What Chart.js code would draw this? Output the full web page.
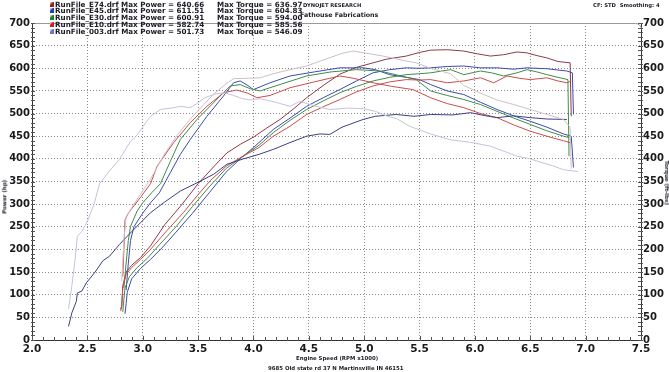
<!DOCTYPE html>
<html lang="en">
<head>
<meta charset="UTF-8" />
<title>Dyno Power and Torque</title>
<script src="https://cdn.jsdelivr.net/npm/chart.js"></script>
<style>
  body { margin: 0; background: #fff; font-family: "DejaVu Sans", sans-serif; }
  .wrap { position: relative; width: 669px; height: 372px; overflow: hidden; }
  canvas { position: absolute; left: 0; top: 0; }
  .txt { position: absolute; font-weight: bold; color: #1c1c28; white-space: nowrap; line-height: 1; }
  .box { position: absolute; width: 4px; height: 5px; }
</style>
</head>
<body>
<div class="wrap" id="wrap">
  <canvas id="dyno" width="669" height="372"></canvas>
</div>
<script>
// legend text
const runNames = ['RunFile_E74.drf', 'RunFile_E45.drf', 'RunFile_E30.drf', 'RunFile_E10.drf', 'RunFile_003.drf'];
const maxPower = ['640.66', '611.51', '600.91', '582.74', '501.73'];
const maxTorque = ['636.97', '604.83', '594.00', '585.56', '546.09'];
const boxColors = ['#9b1f22', '#1f3cc0', '#1f7f24', '#d01f1f', '#6b74c8'];

// axis ticks
const rpmTicks = [2.0, 2.5, 3.0, 3.5, 4.0, 4.5, 5.0, 5.5, 6.0, 6.5, 7.0, 7.5];
const valueTicks = [0, 50, 100, 150, 200, 250, 300, 350, 400, 450, 500, 550, 600, 650, 700];

// E74
const e74PowerRpm = [2.80,2.81,2.82,2.85,2.90,2.98,3.07,3.20,3.35,3.50,3.65,3.76,3.88,4.00,4.12,4.24,4.36,4.48,4.63,4.78,4.93,5.08,5.20,5.38,5.50,5.60,5.75,5.90,6.02,6.14,6.26,6.38,6.47,6.56,6.65,6.75,6.86,6.87];
const e74Power = [68,75,120,150,165,182,208,255,298,345,385,413,432,448,468,487,510,535,562,587,602,612,620,627,635,640,641,638,632,627,630,636,634,628,623,615,612,494];
const e74TorqueRpm = [2.81,2.83,2.85,2.90,2.98,3.07,3.19,3.31,3.43,3.55,3.65,3.75,3.82,3.95,4.06,4.18,4.33,4.48,4.65,4.80,4.90,5.00,5.17,5.30,5.47,5.60,5.78,5.90,6.05,6.20,6.35,6.50,6.65,6.80,6.86,6.87];
const e74Torque = [130,220,272,292,322,355,408,452,488,520,545,565,577,578,579,588,597,605,620,633,638,634,627,620,612,600,588,562,545,530,520,509,498,487,470,378];

// E45
const e45PowerRpm = [2.84,2.85,2.86,2.90,2.98,3.07,3.18,3.30,3.45,3.60,3.75,3.88,4.00,4.18,4.33,4.48,4.63,4.78,4.93,5.08,5.23,5.38,5.50,5.60,5.75,5.90,6.05,6.20,6.35,6.47,6.65,6.83,6.88,6.89];
const e45Power = [58,80,105,135,158,178,205,238,280,325,370,400,425,465,490,516,535,553,572,590,597,601,600,601,604,605,601,601,598,601,599,594,590,498];
const e45TorqueRpm = [2.85,2.87,2.89,2.92,3.00,3.07,3.15,3.25,3.34,3.43,3.58,3.73,3.82,3.88,3.95,4.00,4.15,4.33,4.55,4.78,4.99,5.10,5.23,5.38,5.50,5.60,5.75,5.90,6.05,6.20,6.35,6.50,6.65,6.80,6.87,6.89];
const e45Torque = [110,170,220,250,280,303,325,370,410,443,494,539,568,572,562,553,568,583,592,601,601,597,586,580,575,564,550,542,525,509,495,483,470,455,450,381];

// E30
const e30PowerRpm = [2.82,2.83,2.84,2.88,2.95,3.04,3.15,3.30,3.45,3.60,3.75,3.90,4.05,4.18,4.33,4.48,4.63,4.78,4.93,5.08,5.23,5.38,5.50,5.60,5.78,5.90,6.05,6.15,6.26,6.38,6.47,6.56,6.65,6.75,6.84,6.85];
const e30Power = [62,90,115,140,160,180,210,250,295,338,378,405,430,458,485,509,528,546,560,572,580,586,588,590,597,586,594,590,583,590,597,592,586,580,575,406];
const e30TorqueRpm = [2.83,2.85,2.87,2.89,2.95,3.00,3.08,3.16,3.25,3.34,3.49,3.64,3.79,3.88,3.97,4.06,4.25,4.48,4.70,4.93,5.14,5.30,5.47,5.60,5.75,5.90,6.05,6.20,6.35,6.50,6.65,6.80,6.85];
const e30Torque = [115,170,220,251,285,303,325,345,395,443,487,524,561,564,555,550,565,583,592,597,594,585,575,550,540,531,520,505,490,476,462,450,447];

// E10
const e10PowerRpm = [2.80,2.81,2.82,2.85,2.90,2.98,3.07,3.22,3.37,3.49,3.61,3.76,3.90,4.05,4.18,4.33,4.48,4.63,4.78,4.93,5.08,5.23,5.38,5.50,5.60,5.75,5.90,6.05,6.17,6.29,6.40,6.50,6.65,6.75,6.83,6.87];
const e10Power = [64,72,115,145,160,178,200,242,282,318,352,385,405,425,450,472,498,515,531,548,561,570,575,574,575,568,572,579,568,583,578,575,579,572,568,572];
const e10TorqueRpm = [2.82,2.83,2.84,2.87,2.90,2.98,3.07,3.13,3.28,3.43,3.58,3.73,3.85,3.95,4.03,4.15,4.33,4.55,4.78,4.90,5.08,5.25,5.44,5.60,5.75,5.90,6.05,6.20,6.35,6.50,6.65,6.80,6.87];
const e10Torque = [140,200,265,280,290,315,345,384,436,480,516,546,552,545,535,540,557,570,583,578,568,560,553,535,522,513,500,491,475,461,450,440,435];

// 003
const r003PowerRpm = [2.33,2.36,2.40,2.41,2.45,2.49,2.57,2.64,2.70,2.79,2.86,2.98,3.07,3.20,3.34,3.49,3.64,3.76,3.91,4.05,4.18,4.33,4.48,4.60,4.69,4.80,4.99,5.10,5.29,5.45,5.60,5.80,5.96,6.10,6.20,6.35,6.50,6.65,6.83];
const r003Power = [30,60,85,104,108,126,150,175,185,211,229,259,281,305,329,347,366,388,400,410,421,436,450,455,454,470,487,494,498,494,498,497,502,495,491,495,491,488,487];
const r003TorqueRpm = [2.33,2.36,2.39,2.41,2.45,2.50,2.56,2.61,2.70,2.79,2.89,2.93,3.00,3.07,3.16,3.28,3.34,3.43,3.49,3.56,3.65,3.74,3.82,3.90,3.97,4.06,4.20,4.33,4.42,4.55,4.69,4.85,4.99,5.10,5.20,5.30,5.41,5.60,5.78,5.95,6.14,6.25,6.38,6.50,6.60,6.70,6.80,6.93];
const r003Torque = [69,120,180,229,240,262,300,345,373,399,439,447,470,494,509,513,516,513,522,535,543,546,540,533,530,533,525,516,527,517,509,512,511,505,495,488,472,455,442,437,428,418,406,400,392,385,376,372];

const yFont = { family: 'DejaVu Sans', size: 10, weight: 'bold' };
const xFont = { family: 'DejaVu Sans', size: 10.5, weight: 'bold' };

function pts(xs, ys) {
  return xs.map((x, i) => ({ x: x, y: ys[i] }));
}

function line(label, xs, ys, color, axis) {
  return {
    label: label,
    data: pts(xs, ys),
    borderColor: color,
    borderWidth: 1,
    pointRadius: 0,
    fill: false,
    tension: 0,
    yAxisID: axis
  };
}

// top frame with rounded corner and the minor tick marks on the axes
const frameTicks = {
  id: 'frameTicks',
  afterDraw(chart) {
    const { ctx, chartArea: a, scales } = chart;
    ctx.save();
    ctx.lineWidth = 1;
    ctx.strokeStyle = '#9a9a9a';
    ctx.beginPath();
    ctx.moveTo(a.left, a.top + 0.5);
    ctx.lineTo(a.right - 6, a.top + 0.5);
    ctx.arcTo(a.right + 0.5, a.top + 0.5, a.right + 0.5, a.top + 6, 6);
    ctx.stroke();
    ctx.strokeStyle = '#555';
    ctx.beginPath();
    for (let v = 0; v <= 700; v += 10) {
      const y = Math.round(scales.yPower.getPixelForValue(v)) + 0.5;
      ctx.moveTo(a.left - 1, y); ctx.lineTo(a.left + 3, y);
      ctx.moveTo(a.right - 3, y); ctx.lineTo(a.right + 2, y);
    }
    for (let i = 0; i <= 55; i++) {
      const x = Math.round(scales.x.getPixelForValue(2 + i / 10)) + 0.5;
      const len = i % 5 === 0 ? 4 : 3;
      ctx.moveTo(x, a.bottom - len); ctx.lineTo(x, a.bottom + 1);
    }
    ctx.stroke();
    ctx.restore();
  }
};

new Chart(document.getElementById('dyno'), {
  type: 'line',
  data: {
    datasets: [
      line('003 Torque', r003TorqueRpm, r003Torque, '#c3c3de', 'yTorque'),
      line('E74 Torque', e74TorqueRpm, e74Torque, '#cdbfc6', 'yTorque'),
      line('003 Power', r003PowerRpm, r003Power, '#3b3f85', 'yPower'),
      line('E10 Torque', e10TorqueRpm, e10Torque, '#cc4d4d', 'yTorque'),
      line('E10 Power', e10PowerRpm, e10Power, '#cc4d4d', 'yPower'),
      line('E30 Torque', e30TorqueRpm, e30Torque, '#3f8c48', 'yTorque'),
      line('E30 Power', e30PowerRpm, e30Power, '#3f8c48', 'yPower'),
      line('E45 Torque', e45TorqueRpm, e45Torque, '#3d4ab0', 'yTorque'),
      line('E45 Power', e45PowerRpm, e45Power, '#3d4ab0', 'yPower'),
      line('E74 Power', e74PowerRpm, e74Power, '#8e3a46', 'yPower')
    ]
  },
  options: {
    responsive: false,
    animation: false,
    devicePixelRatio: 1,
    layout: { padding: { top: 23, bottom: 10, left: 0, right: 0 } },
    plugins: { legend: { display: false }, tooltip: { enabled: false } },
    scales: {
      x: {
        type: 'linear',
        min: rpmTicks[0],
        max: rpmTicks[rpmTicks.length - 1],
        afterBuildTicks: s => { s.ticks = rpmTicks.map(v => ({ value: v })); },
        afterFit: s => { s.height = 22; },
        grid: { color: '#8a8a8a', drawTicks: false },
        border: { color: '#333', width: 1, dash: [1, 2] },
        ticks: { font: xFont, color: '#1a1a1a', padding: 3, autoSkip: false, maxRotation: 0,
          callback: v => Number(v).toFixed(1) }
      },
      yPower: {
        type: 'linear',
        position: 'left',
        min: valueTicks[0],
        max: valueTicks[valueTicks.length - 1],
        afterBuildTicks: s => { s.ticks = valueTicks.map(v => ({ value: v })); },
        afterFit: s => { s.width = 32; },
        grid: { color: '#8a8a8a', drawTicks: false },
        border: { color: '#333', width: 1, dash: [1, 2] },
        ticks: { font: yFont, color: '#1a1a1a', padding: 2, autoSkip: false }
      },
      yTorque: {
        type: 'linear',
        position: 'right',
        min: valueTicks[0],
        max: valueTicks[valueTicks.length - 1],
        afterBuildTicks: s => { s.ticks = valueTicks.map(v => ({ value: v })); },
        afterFit: s => { s.width = 28; },
        grid: { drawOnChartArea: false, drawTicks: false },
        border: { color: '#333', width: 1 },
        ticks: { font: yFont, color: '#1a1a1a', padding: 2, autoSkip: false }
      }
    }
  },
  plugins: [frameTicks]
});

// header, axis titles and footer as page text
const wrap = document.getElementById('wrap');
function addText(str, left, top, size, extra) {
  const d = document.createElement('div');
  d.className = 'txt';
  d.textContent = str;
  d.style.left = left + 'px';
  d.style.top = top + 'px';
  d.style.fontSize = size + 'px';
  if (extra) Object.assign(d.style, extra);
  wrap.appendChild(d);
  return d;
}

runNames.forEach((name, i) => {
  const cy = 4 + i * 6.9;
  const b = document.createElement('div');
  b.className = 'box';
  b.style.left = '50px';
  b.style.top = (cy - 2.5) + 'px';
  b.style.background = 'linear-gradient(135deg, #fff 0%, ' + boxColors[i] + ' 45%, ' + boxColors[i] + ' 100%)';
  wrap.appendChild(b);
  addText(name + ' Max Power = ' + maxPower[i], 55, cy - 3.5, 7.2);
  addText('Max Torque = ' + maxTorque[i], 217, cy - 3.5, 7.2);
});

addText('DYNOJET RESEARCH', 303, 2.5, 5.2);
addText('Fathouse Fabrications', 300, 12, 6.3);
addText('CF: STD  Smoothing: 4', 593, 2.5, 5.3, { whiteSpace: 'pre' });

const leftTitle = addText('Power (hp)', 0, 0, 5.5);
leftTitle.style.left = (4.5 - leftTitle.offsetWidth / 2) + 'px';
leftTitle.style.top = (197 - leftTitle.offsetHeight / 2) + 'px';
leftTitle.style.transform = 'rotate(-90deg)';

const rightTitle = addText('Torque (ft-lbs)', 0, 0, 5.5);
rightTitle.style.left = (665.5 - rightTitle.offsetWidth / 2) + 'px';
rightTitle.style.top = (183 - rightTitle.offsetHeight / 2) + 'px';
rightTitle.style.transform = 'rotate(90deg)';

const xTitle = addText('Engine Speed (RPM x1000)', 0, 355.5, 5.4);
xTitle.style.left = (337 - xTitle.offsetWidth / 2) + 'px';
const footer = addText('9685 Old state rd 37 N Martinsville IN 46151', 0, 365.5, 5.4);
footer.style.left = (336 - footer.offsetWidth / 2) + 'px';
</script>
</body>
</html>
